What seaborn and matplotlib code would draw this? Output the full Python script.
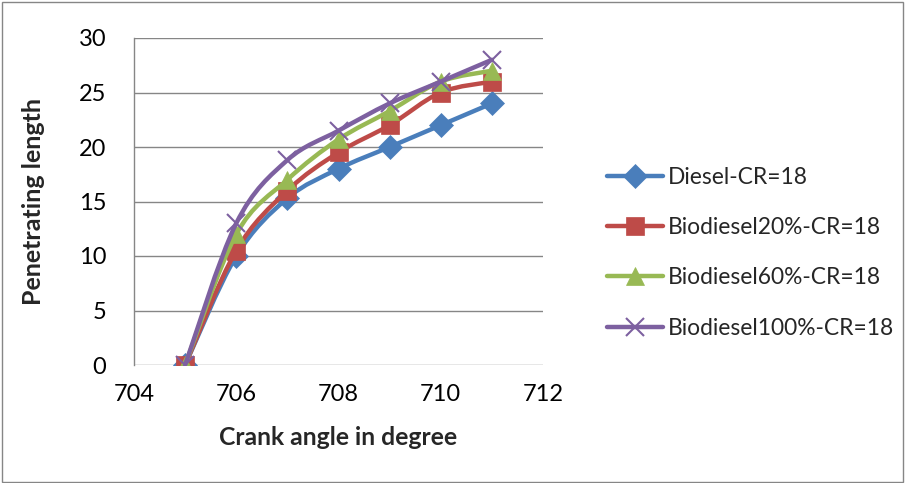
import matplotlib
matplotlib.use("Agg")
import matplotlib.pyplot as plt
import seaborn as sns
import pandas as pd
import numpy as np
from matplotlib.patches import Rectangle, PathPatch
from matplotlib.path import Path
from matplotlib.lines import Line2D

crank_angle = [705, 706, 707, 708, 709, 710, 711]
diesel = [0, 10, 15.3, 18, 20, 22, 24]
bio20 = [0, 10.5, 16, 19.5, 22, 25, 26]
bio60 = [0, 12, 17, 20.7, 23.3, 26, 27]
bio100 = [0, 13, 18.8, 21.5, 24, 26, 28]
series_names = ["Diesel-CR=18", "Biodiesel20%-CR=18", "Biodiesel60%-CR=18", "Biodiesel100%-CR=18"]
x_ticks = [704, 706, 708, 710, 712]
y_ticks = [0, 5, 10, 15, 20, 25, 30]

colors = ["#4A7EBB", "#BE4B48", "#98B954", "#7D60A0"]
markers = ["D", "s", "^", "x"]
msizes = [12.5, 13.5, 13, 12.5]

rows = []
for name, vals in zip(series_names, [diesel, bio20, bio60, bio100]):
    for a, v in zip(crank_angle, vals):
        rows.append({"angle": a, "value": v, "series": name})
df = pd.DataFrame(rows)

sns.set_theme(style="white")
plt.rcParams['font.family'] = ['Lato', 'DejaVu Sans']

fig = plt.figure(figsize=(9.08, 4.83), dpi=100)
ax = fig.add_axes([134 / 908, 1 - 365 / 483, (543 - 134) / 908, (365 - 38) / 483])


def smooth_path(xs, ys):
    # Bezier smoothing (Catmull-Rom style) through the data points
    pts = np.column_stack([xs, ys]).astype(float)
    n = len(pts)
    verts = [pts[0]]
    codes = [Path.MOVETO]
    for i in range(n - 1):
        p0 = pts[i - 1] if i > 0 else pts[i]
        p1 = pts[i]
        p2 = pts[i + 1]
        p3 = pts[i + 2] if i + 2 < n else pts[i + 1]
        c1 = p1 + (p2 - p0) / 6.0
        c2 = p2 - (p3 - p1) / 6.0
        verts += [c1, c2, p2]
        codes += [Path.CURVE4] * 3
    return Path(verts, codes)


handles = []
for i, name in enumerate(series_names):
    sub = df[df["series"] == name]
    mew = 1.5 if markers[i] == "x" else 0.5
    patch = PathPatch(smooth_path(sub["angle"].values, sub["value"].values), fill=False,
                      edgecolor=colors[i], linewidth=3.2, capstyle="round", joinstyle="round",
                      transform=ax.transData, zorder=3 + i)
    ax.add_patch(patch)
    sns.lineplot(data=sub, x="angle", y="value", ax=ax, color=colors[i], linewidth=0,
                 marker=markers[i], markersize=msizes[i], markeredgecolor=colors[i],
                 markeredgewidth=mew, zorder=3.5 + i, legend=False)
    handles.append(Line2D([], [], color=colors[i], linewidth=3.2, marker=markers[i],
                          markersize=msizes[i], markeredgecolor=colors[i],
                          markeredgewidth=mew, solid_capstyle="round"))

ax.set_xlim(704, 712)
ax.set_ylim(0, 30)
ax.set_xticks(x_ticks)
ax.set_yticks(y_ticks)
ax.yaxis.grid(True, color="#868686", linewidth=1)
ax.xaxis.grid(False)
for s in ["top", "right", "bottom"]:
    ax.spines[s].set_visible(False)
ax.spines["left"].set_color("#868686")
ax.spines["left"].set_linewidth(1)
ax.tick_params(axis="y", labelsize=17, colors="black", length=0, pad=20)
ax.tick_params(axis="x", labelsize=17, colors="black", length=0, pad=14)
ax.set_xlabel("Crank angle in degree", fontsize=17.8, fontweight="bold", labelpad=15)
ax.set_ylabel("Penetrating length", fontsize=18, fontweight="bold", labelpad=24)

leg = ax.legend(handles, series_names, loc="upper left", bbox_to_anchor=(598 / 908, 1 - 158 / 483),
                bbox_transform=fig.transFigure, frameon=False, fontsize=16.4,
                handlelength=2.45, handletextpad=0.2, labelspacing=1.28, borderaxespad=0)

fig.patches.append(Rectangle((0.002, 0.002), 0.993, 0.993, transform=fig.transFigure,
                             fill=False, edgecolor="#868686", linewidth=1))

fig.savefig("out.png", dpi=100)
